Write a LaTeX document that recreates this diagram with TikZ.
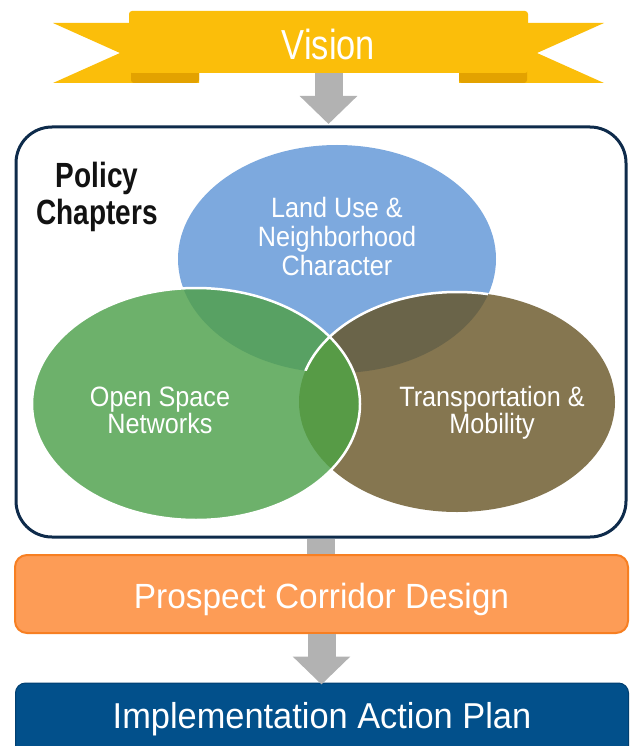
\documentclass[tikz,border=0pt]{standalone}
\usepackage{fontspec}
\setmainfont{Liberation Sans}
\newfontfamily\vennfont{Liberation Sans}[FakeStretch=0.9]
\newfontfamily\headfont{Liberation Sans}[FakeStretch=0.8]
\newfontfamily\visionfont{Liberation Sans}[FakeStretch=0.82]
\newfontfamily\boxfont{Liberation Sans}[FakeStretch=0.955]
\usetikzlibrary{arrows.meta}
\definecolor{ribbonY}{HTML}{FBBE0A}
\definecolor{ribbonF}{HTML}{E3A200}
\definecolor{arrowG}{HTML}{B2B2B2}
\definecolor{navyB}{HTML}{0E2B4B}
\definecolor{vBlue}{HTML}{7DA9DE}
\definecolor{vGreen}{HTML}{6DB16B}
\definecolor{vBrown}{HTML}{857650}
\definecolor{vBG}{HTML}{58A163}
\definecolor{vBBr}{HTML}{6A6449}
\definecolor{vGBr}{HTML}{579B46}
\definecolor{orFill}{HTML}{FD9C56}
\definecolor{orLine}{HTML}{F77F22}
\definecolor{planFill}{HTML}{02508B}
\definecolor{planLine}{HTML}{013F70}
\newcommand\vennBlue{(337,259) ellipse [x radius=159pt, y radius=114pt]}
\newcommand\vennGreen{(196,404) ellipse [x radius=164pt, y radius=116pt]}
\newcommand\vennBrown{(457,402) ellipse [x radius=158pt, y radius=110pt]}
\begin{document}
\begin{tikzpicture}[x=1pt,y=-1pt,
  ribbon/.style={fill=ribbonY},
  ribbonfold/.style={fill=ribbonF},
  bannerbox/.style={fill=ribbonY, minimum width=399pt, minimum height=62pt, inner sep=0pt,
    rounded corners=3pt, text=white, font=\visionfont\fontsize{42}{42}\selectfont,
    text height=36pt, text depth=0pt},
  policybox/.style={draw=navyB, line width=3pt, fill=white, rounded corners=36pt,
    minimum width=610pt, minimum height=410pt, inner sep=0pt},
  stagebox/.style={minimum width=613pt, inner sep=0pt, text=white, text depth=0pt},
  corridor/.style={stagebox, fill=orFill, draw=orLine, line width=2pt, rounded corners=12pt,
    minimum height=78pt, font=\boxfont\fontsize{35}{35}\selectfont, text height=28pt},
  plan/.style={stagebox, fill=planFill, draw=planLine, line width=1pt, rounded corners=10pt,
    minimum height=76pt, font=\boxfont\fontsize{36}{36}\selectfont, text height=14pt},
  venntext/.style={text=white, align=center, inner sep=0pt},
  headtext/.style={text=black!93, align=center, font=\headfont\bfseries\fontsize{35}{37}\selectfont, inner sep=0pt},
  bigarrow/.style={draw=arrowG, line width=28pt, -{Triangle[width=56pt,length=28pt]}},
  shaft/.style={draw=arrowG, line width=28pt},
  vennline/.style={draw=white, line width=2.5pt}
]
\useasboundingbox (0,0) rectangle (629,746);
% ribbon tails
\fill[ribbon] (53,23) -- (199,23) -- (199,83) -- (53,83) -- (120,53) -- cycle;
\fill[ribbon] (604,23) -- (459,23) -- (459,83) -- (604,83) -- (537,53) -- cycle;
\fill[ribbonfold, rounded corners=3pt] (131,68) rectangle (199,83);
\fill[ribbonfold, rounded corners=3pt] (459,68) rectangle (527,83);
\node[bannerbox] (vision) at (328.5,42) {Vision};

% main boxes
\node[policybox] (policy) at (321,332) {};
\node[corridor] (corridor) at (321.5,594) {Prospect Corridor Design};
\node[plan] (plan) at (322,721) {Implementation Action Plan};

% Venn diagram
\fill[vBlue] \vennBlue;
\fill[vBrown] \vennBrown;
\fill[vGreen] \vennGreen;
\begin{scope}
  \clip \vennBlue;
  \fill[vBBr] \vennBrown;
  \fill[vBG] \vennGreen;
\end{scope}
\begin{scope}
  \clip \vennGreen;
  \fill[vGBr] \vennBrown;
\end{scope}
\begin{scope}
  \clip \vennBlue;
  \draw[vennline] \vennBrown;
\end{scope}
\draw[vennline] \vennGreen;

\node[venntext, font=\vennfont\fontsize{28}{29}\selectfont] (landuse) at (337,236) {Land Use \&\\Neighborhood\\Character};
\node[venntext, font=\vennfont\fontsize{28}{26}\selectfont] (openspace) at (160,410) {Open Space\\Networks};
\node[venntext, font=\vennfont\fontsize{28}{27}\selectfont] (transport) at (492,413) {Transportation \&\\Mobility};
\node[headtext] (chapters) at (97,197) {Policy\\Chapters};

% connectors
\draw[bigarrow] (vision.south) -- ([yshift=1.5pt]vision.south |- policy.north);
\draw[shaft] (policy.south) -- (policy.south |- corridor.north);
\draw[bigarrow] (corridor.south) -- ([yshift=-2pt]corridor.south |- plan.north);
\end{tikzpicture}
\end{document}
